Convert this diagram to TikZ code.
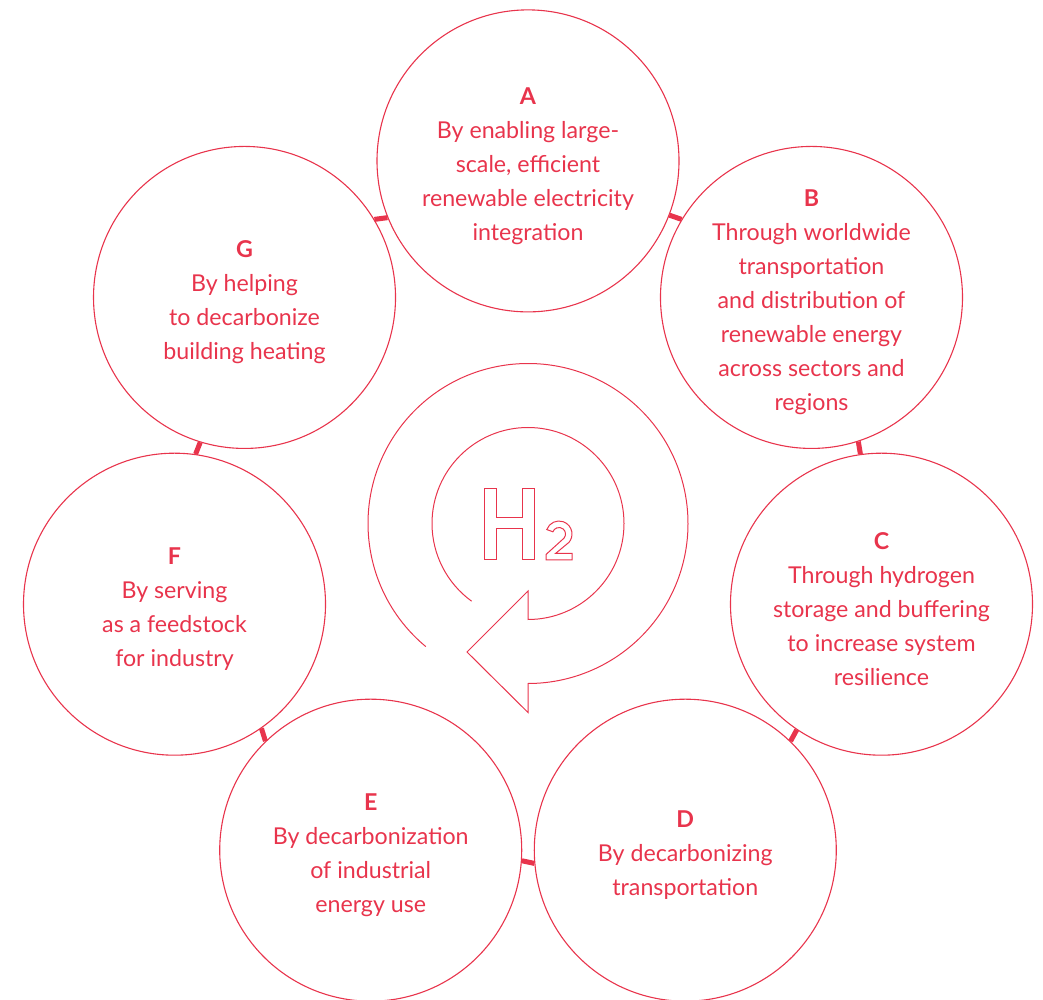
\documentclass[tikz,border=0pt]{standalone}
\usepackage{fontspec}
\setmainfont{Lato}
\usetikzlibrary{calc}
\definecolor{hred}{RGB}{232,52,76}
\tikzset{
  disc/.style={circle, draw=hred, line width=1.1pt, minimum size=302pt, inner sep=0pt},
  caption/.style={align=center, text=hred, yshift=-5pt, font=\fontsize{23.2}{34}\selectfont},
  link/.style={draw=hred, line width=5pt},
  outline/.style={draw=hred, line width=1pt, line join=miter}
}
\begin{document}
\begin{tikzpicture}[x=1pt, y=1pt]
\useasboundingbox (0, 0) rectangle (1043, 999);
\coordinate (hub) at (528, 475.5);

\node [disc] (A) at ($(hub)+(90:362.6)$) {};
\node [disc] (B) at ($(hub)+(38.57:362.6)$) {};
\node [disc] (C) at ($(hub)+(-12.86:362.6)$) {};
\node [disc] (D) at ($(hub)+(-64.29:362.6)$) {};
\node [disc] (E) at ($(hub)+(-115.71:362.6)$) {};
\node [disc] (F) at ($(hub)+(-167.14:362.6)$) {};
\node [disc] (G) at ($(hub)+(141.43:362.6)$) {};

\node [caption] (A-text) at (A) {\textbf{A}\\By enabling large-\\scale, efficient\\renewable electricity\\integration};
\node [caption] (B-text) at (B) {\textbf{B}\\Through worldwide\\transportation\\and distribution of\\renewable energy\\across sectors and\\regions};
\node [caption] (C-text) at (C) {\textbf{C}\\Through hydrogen\\storage and buffering\\to increase system\\resilience};
\node [caption] (D-text) at (D) {\textbf{D}\\By decarbonizing\\transportation};
\node [caption] (E-text) at (E) {\textbf{E}\\By decarbonization\\of industrial\\energy use};
\node [caption] (F-text) at (F) {\textbf{F}\\By serving\\as a feedstock\\for industry};
\node [caption] (G-text) at (G) {\textbf{G}\\By helping\\to decarbonize\\building heating};

\foreach \p/\q [count=\k from 0] in {A/B, B/C, C/D, D/E, E/F, F/G, G/A} {
  \pgfmathsetmacro\ta{90-51.4286*\k-111.2}
  \pgfmathsetmacro\tb{90-51.4286*(\k+1)+111.2}
  \draw [link] (\p.\ta) -- (\q.\tb);
}

\draw [outline] (hub) ++(230.3:160) arc[start angle=230.3, end angle=-90, radius=160]
  -- ++(0, -29) -- (467, 347) -- (528, 408) -- ($(hub)+(0, -96)$)
  arc[start angle=-90, end angle=234, radius=96];

\draw [outline] (484, 510) -- (496, 510) -- (496, 481) -- (522, 481) -- (522, 510) -- (534, 510)
  -- (534, 439) -- (522, 439) -- (522, 470) -- (496, 470) -- (496, 439) -- (484, 439) -- cycle;
\draw [outline] (559, 465) ++(160:13) arc[start angle=160, end angle=-40, radius=13]
  -- (555.5, 445.5) -- (572, 445.5) -- (572, 439) -- (546, 439) -- (546, 444.5)
  -- ($(559, 465)+(-40:6.5)$) arc[start angle=-40, end angle=160, radius=6.5] -- cycle;
\end{tikzpicture}
\end{document}
